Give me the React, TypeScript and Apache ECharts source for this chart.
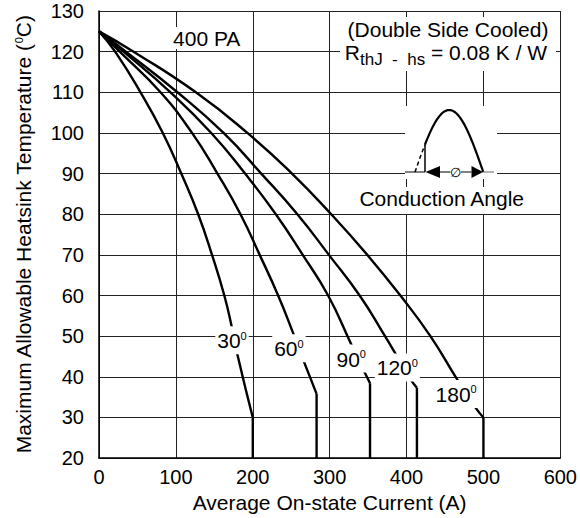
import React, { useEffect, useRef } from "react";
import * as echarts from "echarts";

const FONT = '"Liberation Sans", Arial, Helvetica, sans-serif';

// Axis ticks
const xMin = 0;
const xMax = 600;
const xStep = 100;
const yMin = 20;
const yMax = 130;
const yStep = 10;

// Curves: current (A) vs heatsink temperature (°C)
const angles = ["30", "60", "90", "120", "180"];

const curve30I = [0, 21, 54, 83, 107, 129, 147, 163, 173, 180, 200];
const curve30T = [125, 120, 110, 100, 90, 80, 70, 60, 52, 45.5, 30];

const curve60I = [0, 27, 80, 121, 154, 184, 209, 233, 252, 266, 283];
const curve60T = [125, 120, 110, 100, 90, 80, 70, 60, 51, 44, 35.8];

const curve90I = [0, 32, 93, 146, 190, 230, 265, 298, 327.6, 345, 352.5];
const curve90T = [125, 120, 110, 100, 90, 80, 70, 60, 48.2, 41.3, 38.4];

const curve120I = [0, 35, 102, 162, 211, 258, 299, 339, 372, 385, 405.5, 413.5];
const curve120T = [125, 120, 110, 100, 90, 80, 70, 60, 50, 45.9, 39.3, 37.3];

const curve180I = [0, 45, 126, 193, 251, 302, 349, 392, 431, 465, 489, 500];
const curve180T = [125, 120, 110, 100, 90, 80, 70, 60, 50, 39.6, 32.6, 30];

// vertical drop at the end of each curve
const endCurrent = [200, 283, 352.5, 413.5, 500];
const endTemp = [30, 35.8, 38.4, 37.3, 30];
const floorTemp = 20;

// where each angle label sits (data units)
const labelCurrent = [173, 247, 328, 388, 464.5];
const labelTemp = [49, 47, 44.5, 42.3, 35.8];

const curvesI = [curve30I, curve60I, curve90I, curve120I, curve180I];
const curvesT = [curve30T, curve60T, curve90T, curve120T, curve180T];

export default function App() {
  const ref = useRef<HTMLDivElement>(null);

  useEffect(() => {
    if (!ref.current) return;
    const chart = echarts.init(ref.current, undefined, { renderer: "svg" });

    const lineStyle = { color: "#000", width: 2.4 };
    const series: any[] = [];
    curvesI.forEach((I, k) => {
      const T = curvesT[k];
      series.push({
        type: "line",
        data: I.map((v, i) => [v, T[i]]),
        smooth: 0.5,
        symbol: "none",
        showSymbol: false,
        lineStyle,
        z: 3,
        silent: true,
        markPoint: {
          symbol: "circle",
          symbolSize: 0,
          silent: true,
          z: 6,
          data: [{ coord: [labelCurrent[k], labelTemp[k]] }],
          label: {
            show: true,
            position: "inside",
            formatter: `{n|${angles[k]}}{s|0}`,
            backgroundColor: "#fff",
            padding: [4, 2, 3, 2],
            rich: {
              n: { fontSize: 21, fontFamily: FONT, color: "#000" },
              s: { fontSize: 11, fontFamily: FONT, color: "#000", verticalAlign: "top" },
            },
          },
        },
      });
      series.push({
        type: "line",
        data: [
          [endCurrent[k], endTemp[k]],
          [endCurrent[k], floorTemp],
        ],
        symbol: "none",
        showSymbol: false,
        lineStyle,
        z: 3,
        silent: true,
      });
    });

    // inset waveform drawing (pixel decoration)
    const x0 = 415;
    const x1 = 483.3;
    const base = 172;
    const amp = 62;
    const sinePts: number[][] = [];
    for (let x = 425; x <= x1 + 0.01; x += 1.5) {
      sinePts.push([x, base - amp * Math.sin((Math.PI * (x - x0)) / (x1 - x0))]);
    }
    sinePts.push([x1, base]);
    const dashPts: number[][] = [];
    for (let x = x0; x <= 425.01; x += 1) {
      dashPts.push([x, base - amp * Math.sin((Math.PI * (x - x0)) / (x1 - x0))]);
    }
    const startY = sinePts[0][1];

    const txt = (text: string, x: number, y: number, extra: any = {}) => ({
      type: "text",
      z: 20,
      silent: true,
      style: {
        text,
        x,
        y,
        font: `21px ${FONT}`,
        fontSize: 21,
        fontFamily: FONT,
        fill: "#000",
        align: "center",
        textAlign: "center",
        verticalAlign: "top",
        textVerticalAlign: "top",
        ...extra,
      },
    });

    const option: any = {
      animation: false,
      backgroundColor: "#fff",
      grid: { left: 99, right: 12, top: 11, bottom: 54, containLabel: false },
      xAxis: {
        type: "value",
        min: xMin,
        max: xMax,
        interval: xStep,
        name: "Average On-state Current (A)",
        nameLocation: "middle",
        nameGap: 29,
        nameTextStyle: { fontSize: 21, fontFamily: FONT, color: "#000" },
        axisLine: { show: true, lineStyle: { color: "#000", width: 1.5 } },
        axisTick: { show: false },
        axisLabel: { fontSize: 20, fontFamily: FONT, color: "#000", margin: 9 },
        splitLine: { show: true, lineStyle: { color: "#222", width: 1 } },
      },
      yAxis: {
        type: "value",
        min: yMin,
        max: yMax,
        interval: yStep,
        name: "Maximum Allowable Heatsink Temperature ({s|0}C)",
        nameLocation: "middle",
        nameRotate: 90,
        nameGap: 65,
        nameTextStyle: {
          fontSize: 21,
          fontFamily: FONT,
          color: "#000",
          rich: { s: { fontSize: 11, fontFamily: FONT, color: "#000", verticalAlign: "top" } },
        },
        axisLine: { show: true, lineStyle: { color: "#000", width: 1.5 } },
        axisTick: { show: false },
        axisLabel: { fontSize: 20, fontFamily: FONT, color: "#000", margin: 15 },
        splitLine: { show: true, lineStyle: { color: "#222", width: 1 } },
      },
      series,
      graphic: {
        elements: [
          { type: "rect", z: 10, silent: true, shape: { x: 340, y: 17, width: 216, height: 54 }, style: { fill: "#fff" } },
          { type: "rect", z: 10, silent: true, shape: { x: 405, y: 106, width: 92, height: 73 }, style: { fill: "#fff" } },
          { type: "rect", z: 10, silent: true, shape: { x: 351, y: 187, width: 180, height: 27 }, style: { fill: "#fff" } },
          txt("400 PA", 206.7, 27, { backgroundColor: "#fff", padding: [1, 2, 0, 2] }),
          txt("(Double Side Cooled)", 448, 19),
          {
            type: "text",
            z: 20,
            silent: true,
            style: {
              text: "{n|R}{b|thJ  -  hs}{n| = 0.08 K / W}",
              x: 446,
              y: 42,
              fill: "#000",
              align: "center",
              textAlign: "center",
              verticalAlign: "top",
              textVerticalAlign: "top",
              rich: {
                n: { fontSize: 21, fontFamily: FONT, color: "#000", lineHeight: 26, verticalAlign: "top" },
                b: { fontSize: 17, fontFamily: FONT, color: "#000", lineHeight: 26, verticalAlign: "bottom" },
              },
            },
          },
          txt("Conduction Angle", 441.7, 188),
          // waveform
          { type: "polyline", z: 15, silent: true, shape: { points: sinePts }, style: { stroke: "#000", lineWidth: 2.2, fill: null } },
          { type: "polyline", z: 15, silent: true, shape: { points: dashPts }, style: { stroke: "#000", lineWidth: 1.5, fill: null, lineDash: [4, 3] } },
          { type: "line", z: 15, silent: true, shape: { x1: 425, y1: base, x2: 425, y2: startY }, style: { stroke: "#000", lineWidth: 1.5 } },
          { type: "line", z: 15, silent: true, shape: { x1: 405, y1: base, x2: 425, y2: base }, style: { stroke: "#000", lineWidth: 1 } },
          { type: "line", z: 15, silent: true, shape: { x1: 483, y1: base, x2: 494, y2: base }, style: { stroke: "#666", lineWidth: 1 } },
          { type: "polygon", z: 15, silent: true, shape: { points: [[425.5, base], [440, base - 6], [440, base + 6]] }, style: { fill: "#000" } },
          { type: "polygon", z: 15, silent: true, shape: { points: [[483, base], [471.5, base - 6], [471.5, base + 6]] }, style: { fill: "#000" } },
          { type: "line", z: 15, silent: true, shape: { x1: 440, y1: base, x2: 450.5, y2: base }, style: { stroke: "#000", lineWidth: 1 } },
          { type: "line", z: 15, silent: true, shape: { x1: 461, y1: base, x2: 471.5, y2: base }, style: { stroke: "#000", lineWidth: 1 } },
          txt("\u2205", 455.8, base, { font: `13px ${FONT}`, fontSize: 13, verticalAlign: "middle", textVerticalAlign: "middle" }),
        ],
      },
    };

    chart.setOption(option);
    return () => chart.dispose();
  }, []);

  return (
    <div
      ref={ref}
      style={{ position: "absolute", left: 0, top: 0, width: 580, height: 518, background: "#fff" }}
    />
  );
}
